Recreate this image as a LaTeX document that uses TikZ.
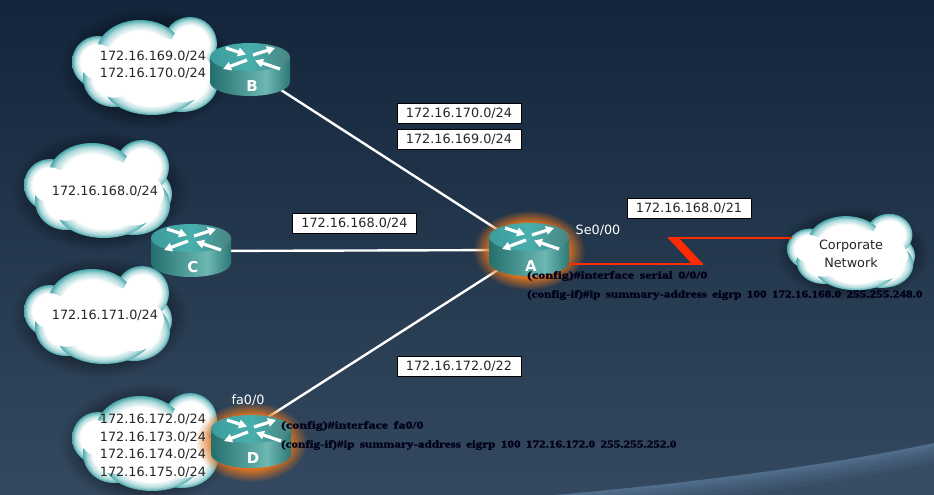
\documentclass[tikz,border=0pt]{standalone}
\usepackage{fontspec}
\setmainfont{DejaVu Sans}
\newfontfamily\cmdfont[FakeStretch=1.27,FakeBold=1.8,WordSpace=1.6]{Liberation Serif Bold}
\newfontfamily\cmdshort[FakeStretch=1.36,FakeBold=1.8,WordSpace=1.6]{Liberation Serif Bold}
\usetikzlibrary{arrows.meta,fadings}
\definecolor{bgtop}{HTML}{13253B}
\definecolor{bgbottom}{HTML}{34495F}
\definecolor{swoosh}{HTML}{4F6C8A}
\definecolor{cloudteal}{HTML}{4AA8AC}
\definecolor{linkred}{HTML}{FF2A00}
\definecolor{haloorange}{HTML}{E0741E}
\definecolor{sidedark}{HTML}{236F6D}
\definecolor{sidelight}{HTML}{6DB8B3}
\definecolor{sideend}{HTML}{2C7876}
\definecolor{topleft}{HTML}{3C9C9C}
\definecolor{topmid}{HTML}{48AFAD}
\definecolor{topright}{HTML}{4A8482}
\pgfdeclareradialshading{lobeshade}{\pgfpointorigin}{color(0bp)=(white); color(17bp)=(white); color(22bp)=(cloudteal!45!white); color(25bp)=(cloudteal); color(50bp)=(cloudteal)}
\pgfdeclarehorizontalshading{sideshade}{100bp}{color(0bp)=(sidedark); color(25bp)=(sidedark); color(60bp)=(sidelight); color(75bp)=(sideend); color(100bp)=(sideend)}
\pgfdeclarehorizontalshading{topshade}{100bp}{color(0bp)=(topleft); color(25bp)=(topleft); color(50bp)=(topmid); color(75bp)=(topright); color(100bp)=(topright)}
\pgfdeclareradialshading{halosh}{\pgfpointorigin}{color(0bp)=(pgftransparent!0); color(17bp)=(pgftransparent!5); color(25bp)=(pgftransparent!100); color(50bp)=(pgftransparent!100)}
\pgfdeclarefading{halofade}{\pgfuseshading{halosh}}
\tikzset{
  iplabel/.style={draw=black, fill=white, minimum width=124, minimum height=20, inner sep=0, font=\fontsize{12.8}{17}\selectfont, text=black!85},
  cloudtext/.style={align=center, inner sep=0, font=\fontsize{12.8}{17.5}\selectfont, text=black!85},
  portlabel/.style={inner sep=0, text=white, font=\fontsize{12.8}{16}\selectfont},
  cmdline/.style={anchor=west, inner sep=0, text=black!90!blue, font=\fontsize{10.4}{12}\cmdfont},
  cmdtop/.style={cmdline, font=\fontsize{10.4}{12}\cmdshort},
  routerpoint/.style={inner sep=0, minimum size=0},
  lanlink/.style={draw=white, line width=2.4},
  serial/.style={draw=linkred, line width=1.5},
  turn/.style={-{Triangle[length=8,width=8.5]}, white, line width=3.2},
  lobe/.style={shading=lobeshade},
  cloud/.pic={
    \fill[black, opacity=.45, path fading=halofade] (76,52) ellipse [x radius=88, y radius=60];
    \foreach \cx/\cy/\rx/\ry in {26/46/26/26, 123/55/25/25, 118/28/27/27, 110/66/36/30, 42/62/31/29, 80/70/48/29, 68/38/44/34}
      \shade[lobe] (\cx,\cy) ellipse [x radius=\rx, y radius=\ry];
    \foreach \cx/\cy/\rx/\ry in {26/46/26/26, 123/55/25/25, 118/28/27/27, 110/66/36/30, 42/62/31/29, 80/70/48/29, 68/38/44/34}
      \fill[white] (\cx,\cy) ellipse [x radius=.68*\rx, y radius=.68*\ry];
    \fill[white] (76,50) ellipse [x radius=50, y radius=30];
  },
  router/.pic={
    \shade[shading=sideshade]
      (-40,-13) -- (-40,12) .. controls (-40,19.7) and (-22,26) .. (0,26) .. controls (22,26) and (40,19.7) .. (40,12) -- (40,-13) -- cycle;
    \shade[shading=topshade] (0,-13) ellipse [x radius=40, y radius=14];
    \draw[turn] (-24,-22) -- (-4,-15.5);
    \draw[turn] (3,-15) -- (25,-22);
    \draw[turn] (-3,-10) -- (-27,-1);
    \draw[turn] (30,-1) -- (5,-9.5);
    \node[inner sep=0, text=white, font=\fontsize{15}{15}\selectfont\bfseries] (-letter) at (2,16) {#1};
  },
  halo/.pic={
    \fill[haloorange, path fading=halofade] (0,0) ellipse [x radius=56, y radius=40];
  }
}

\begin{document}
\begin{tikzpicture}[x=1pt, y=-1pt]
  \useasboundingbox (0,0) rectangle (934,495);
  \shade[top color=bgtop, bottom color=bgbottom] (0,0) rectangle (934,495);
  % swoosh, lower right
  \fill[swoosh] (555,495) .. controls (700,482) and (830,465) .. (934,443) -- (934,495) -- cycle;
  \foreach \shift/\mixval in {3/85,6/70,9/55,12/40,16/25,20/12}
    \fill[swoosh!\mixval!bgbottom, yshift=-\shift] (555,495) .. controls (700,482) and (830,465) .. (934,443) -- (934,499) -- (555,499) -- cycle;

  \pic at (72,16) {cloud};
  \pic at (24,139) {cloud};
  \pic at (24,265) {cloud};
  \pic at (72,392) {cloud};
  \pic[xscale=.865, yscale=.78] at (787,213) {cloud};

  \node[routerpoint] (B) at (250,70) {};
  \node[routerpoint] (C) at (191,251) {};
  \node[routerpoint] (A) at (529,250) {};
  \node[routerpoint] (D) at (251,442) {};
  \coordinate (portD) at (251,428);
  \coordinate (kneeA) at (703,264);
  \coordinate (kneeB) at (668,238);
  \coordinate (kneeA2) at (692,264);
  \coordinate (kneeB2) at (679,238);
  \coordinate (portA) at (529,264);
  \coordinate (portCorp) at (792,238);

  \path[lanlink] (B) -- (A);
  \path[lanlink] (C) -- (A);
  \path[lanlink] (portD) -- (A);

  \pic at (A) {halo};
  \pic at (D) {halo};

  \path[serial] (portA) -- (kneeA);
  \fill[linkred] (kneeB) -- (kneeB2) -- (kneeA) -- (kneeA2) -- cycle;
  \path[serial] (kneeB) -- (portCorp);

  \pic at (B) {router=B};
  \pic at (C) {router=C};
  \pic at (A) {router=A};
  \pic at (D) {router=D};

  \node[cloudtext] (netB) at (153,65) {172.16.169.0/24\\172.16.170.0/24};
  \node[cloudtext] (netC) at (105,191) {172.16.168.0/24};
  \node[cloudtext] (netE) at (105,315) {172.16.171.0/24};
  \node[cloudtext] (netD) at (153,446) {172.16.172.0/24\\172.16.173.0/24\\172.16.174.0/24\\172.16.175.0/24};
  \node[cloudtext] (corp) at (851,254) {Corporate\\Network};

  \node[iplabel] (sumB1) at (459,113) {172.16.170.0/24};
  \node[iplabel] (sumB2) at (459,139) {172.16.169.0/24};
  \node[iplabel] (sumC) at (354.5,223) {172.16.168.0/24};
  \node[iplabel] (sumA) at (689,208.5) {172.16.168.0/21};
  \node[iplabel] (sumD) at (459,366) {172.16.172.0/22};

  \node[portlabel] (se) at (598,230) {Se0/00};
  \node[portlabel] (fa) at (248,400) {fa0/0};

  \node[cmdtop] (cmdA1) at (527,276) {(config)\#interface serial 0/0/0};
  \node[cmdline] (cmdA2) at (527,295) {(config-if)\#ip summary-address eigrp 100 172.16.168.0 255.255.248.0};
  \node[cmdtop] (cmdD1) at (281,426) {(config)\#interface fa0/0};
  \node[cmdline] (cmdD2) at (281,445) {(config-if)\#ip summary-address eigrp 100 172.16.172.0 255.255.252.0};
\end{tikzpicture}
\end{document}
